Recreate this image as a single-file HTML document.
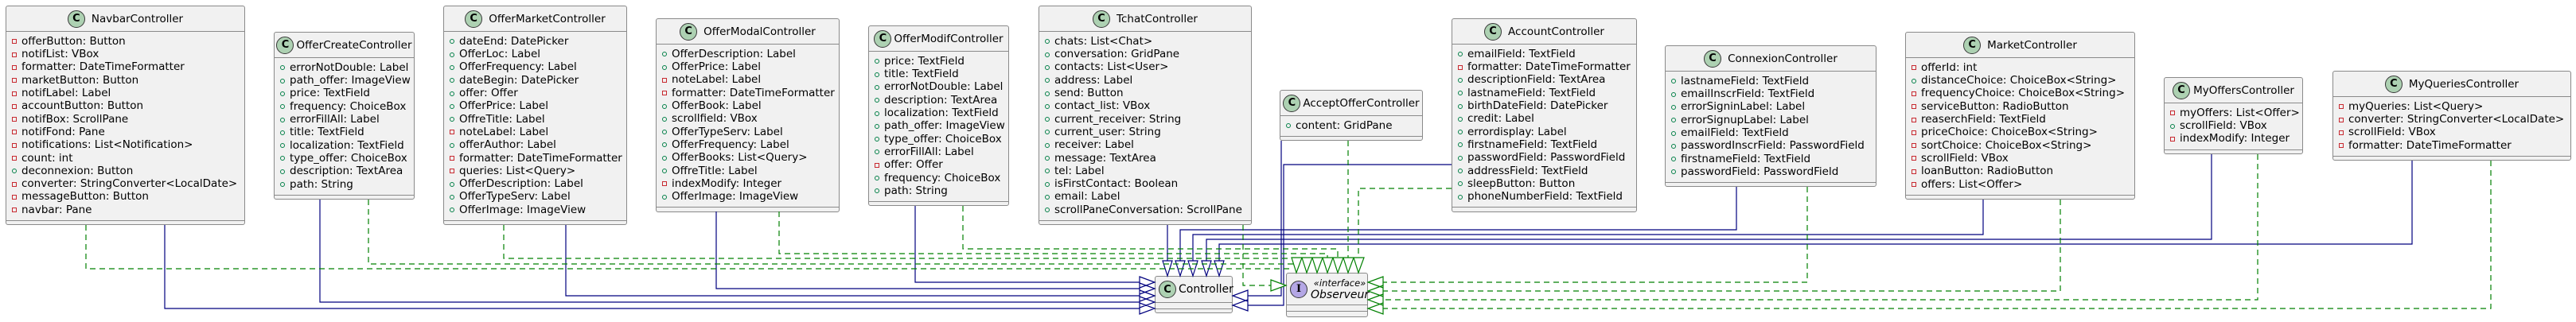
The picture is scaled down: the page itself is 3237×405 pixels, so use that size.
<!DOCTYPE html>
<html><head><meta charset="utf-8"><style>
html,body{margin:0;padding:0;background:#fff;width:3237px;height:405px;overflow:hidden;font-family:"DejaVu Sans","Liberation Sans",sans-serif;color:#000}
.b{position:absolute;background:#F1F1F1;border:1px solid #8a8a8a;border-radius:3px;box-sizing:border-box}
.h{height:31px;display:flex;align-items:center;justify-content:center;border-bottom:1px solid #8a8a8a;font-size:13.5px;white-space:nowrap}
.ic{width:20px;height:20px;border-radius:50%;background:#ADD1B2;border:1px solid #383838;font-weight:bold;font-size:13px;display:flex;align-items:center;justify-content:center;margin-right:8px;flex:none}
.rs{padding-top:3.85px;padding-bottom:4.85px;border-bottom:1px solid #8a8a8a}
.r{height:16.3px;line-height:16.3px;position:relative;padding-left:19px;white-space:nowrap;font-size:13.5px}
.r::before{content:"";position:absolute;left:7px;top:5.5px;width:4px;height:4px;box-sizing:content-box}
.v::before{border:1px solid #C82930}
.p::before{border:1px solid #038048;border-radius:50%}
svg{position:absolute;left:0;top:0}
</style></head><body>

<div class="b" style="left:7px;top:7px;width:301px;height:276px"><div class="h"><div class="ic">C</div>NavbarController</div><div class="rs">
<div class="r v">offerButton: Button</div><div class="r v">notifList: VBox</div><div class="r v">formatter: DateTimeFormatter</div><div class="r v">marketButton: Button</div><div class="r v">notifLabel: Label</div><div class="r v">accountButton: Button</div><div class="r v">notifBox: ScrollPane</div><div class="r v">notifFond: Pane</div><div class="r v">notifications: List&lt;Notification&gt;</div><div class="r v">count: int</div><div class="r p">deconnexion: Button</div><div class="r v">converter: StringConverter&lt;LocalDate&gt;</div><div class="r v">messageButton: Button</div><div class="r v">navbar: Pane</div></div></div>

<div class="b" style="left:344px;top:40px;width:177px;height:211px"><div class="h"><div class="ic" style="margin-right:3px">C</div>OfferCreateController</div><div class="rs">
<div class="r p">errorNotDouble: Label</div><div class="r p">path_offer: ImageView</div><div class="r p">price: TextField</div><div class="r p">frequency: ChoiceBox</div><div class="r p">errorFillAll: Label</div><div class="r p">title: TextField</div><div class="r p">localization: TextField</div><div class="r p">type_offer: ChoiceBox</div><div class="r p">description: TextArea</div><div class="r p">path: String</div></div></div>

<div class="b" style="left:557px;top:7px;width:231px;height:276px"><div class="h"><div class="ic">C</div>OfferMarketController</div><div class="rs">
<div class="r p">dateEnd: DatePicker</div><div class="r p">OfferLoc: Label</div><div class="r p">OfferFrequency: Label</div><div class="r p">dateBegin: DatePicker</div><div class="r p">offer: Offer</div><div class="r p">OfferPrice: Label</div><div class="r p">OffreTitle: Label</div><div class="r v">noteLabel: Label</div><div class="r p">offerAuthor: Label</div><div class="r v">formatter: DateTimeFormatter</div><div class="r v">queries: List&lt;Query&gt;</div><div class="r p">OfferDescription: Label</div><div class="r p">OfferTypeServ: Label</div><div class="r p">OfferImage: ImageView</div></div></div>

<div class="b" style="left:824px;top:23px;width:231px;height:244px"><div class="h"><div class="ic">C</div>OfferModalController</div><div class="rs">
<div class="r p">OfferDescription: Label</div><div class="r p">OfferPrice: Label</div><div class="r v">noteLabel: Label</div><div class="r v">formatter: DateTimeFormatter</div><div class="r p">OfferBook: Label</div><div class="r p">scrollfield: VBox</div><div class="r p">OfferTypeServ: Label</div><div class="r p">OfferFrequency: Label</div><div class="r p">OfferBooks: List&lt;Query&gt;</div><div class="r p">OffreTitle: Label</div><div class="r v">indexModify: Integer</div><div class="r p">OfferImage: ImageView</div></div></div>

<div class="b" style="left:1091px;top:32px;width:177px;height:227px"><div class="h"><div class="ic" style="margin-right:3px">C</div>OfferModifController</div><div class="rs">
<div class="r p">price: TextField</div><div class="r p">title: TextField</div><div class="r p">errorNotDouble: Label</div><div class="r p">description: TextArea</div><div class="r p">localization: TextField</div><div class="r p">path_offer: ImageView</div><div class="r p">type_offer: ChoiceBox</div><div class="r p">errorFillAll: Label</div><div class="r v">offer: Offer</div><div class="r p">frequency: ChoiceBox</div><div class="r p">path: String</div></div></div>

<div class="b" style="left:1305px;top:7px;width:268px;height:276px"><div class="h"><div class="ic">C</div>TchatController</div><div class="rs">
<div class="r p">chats: List&lt;Chat&gt;</div><div class="r p">conversation: GridPane</div><div class="r p">contacts: List&lt;User&gt;</div><div class="r p">address: Label</div><div class="r p">send: Button</div><div class="r p">contact_list: VBox</div><div class="r p">current_receiver: String</div><div class="r p">current_user: String</div><div class="r p">receiver: Label</div><div class="r p">message: TextArea</div><div class="r p">tel: Label</div><div class="r p">isFirstContact: Boolean</div><div class="r p">email: Label</div><div class="r p">scrollPaneConversation: ScrollPane</div></div></div>

<div class="b" style="left:1608px;top:113px;width:180px;height:64px"><div class="h"><div class="ic" style="margin-right:3px">C</div>AcceptOfferController</div><div class="rs">
<div class="r p">content: GridPane</div></div></div>

<div class="b" style="left:1824px;top:23px;width:233px;height:244px"><div class="h"><div class="ic">C</div>AccountController</div><div class="rs">
<div class="r p">emailField: TextField</div><div class="r v">formatter: DateTimeFormatter</div><div class="r p">descriptionField: TextArea</div><div class="r p">lastnameField: TextField</div><div class="r p">birthDateField: DatePicker</div><div class="r p">credit: Label</div><div class="r p">errordisplay: Label</div><div class="r p">firstnameField: TextField</div><div class="r p">passwordField: PasswordField</div><div class="r p">addressField: TextField</div><div class="r p">sleepButton: Button</div><div class="r p">phoneNumberField: TextField</div></div></div>

<div class="b" style="left:2092px;top:57px;width:266px;height:178px"><div class="h"><div class="ic">C</div>ConnexionController</div><div class="rs">
<div class="r p">lastnameField: TextField</div><div class="r p">emailInscrField: TextField</div><div class="r p">errorSigninLabel: Label</div><div class="r p">errorSignupLabel: Label</div><div class="r p">emailField: TextField</div><div class="r p">passwordInscrField: PasswordField</div><div class="r p">firstnameField: TextField</div><div class="r p">passwordField: PasswordField</div></div></div>

<div class="b" style="left:2394px;top:40px;width:289px;height:211px"><div class="h"><div class="ic">C</div>MarketController</div><div class="rs">
<div class="r v">offerId: int</div><div class="r p">distanceChoice: ChoiceBox&lt;String&gt;</div><div class="r v">frequencyChoice: ChoiceBox&lt;String&gt;</div><div class="r v">serviceButton: RadioButton</div><div class="r v">reaserchField: TextField</div><div class="r v">priceChoice: ChoiceBox&lt;String&gt;</div><div class="r v">sortChoice: ChoiceBox&lt;String&gt;</div><div class="r v">scrollField: VBox</div><div class="r v">loanButton: RadioButton</div><div class="r v">offers: List&lt;Offer&gt;</div></div></div>

<div class="b" style="left:2719px;top:97px;width:175px;height:97px"><div class="h"><div class="ic" style="margin-right:4px">C</div>MyOffersController</div><div class="rs">
<div class="r v">myOffers: List&lt;Offer&gt;</div><div class="r p">scrollField: VBox</div><div class="r v">indexModify: Integer</div></div></div>

<div class="b" style="left:2931px;top:89px;width:300px;height:113px"><div class="h"><div class="ic">C</div>MyQueriesController</div><div class="rs">
<div class="r v">myQueries: List&lt;Query&gt;</div><div class="r v">converter: StringConverter&lt;LocalDate&gt;</div><div class="r v">scrollField: VBox</div><div class="r v">formatter: DateTimeFormatter</div></div></div>

<div class="b" style="left:1451px;top:347px;width:98px;height:47px"><div class="h" style="height:32px;justify-content:flex-start;padding-left:4px;font-size:14px"><div class="ic" style="margin-right:3px">C</div>Controller</div><div style="height:7px;border-bottom:1px solid #8a8a8a"></div></div>

<div class="b" style="left:1616px;top:343px;width:103px;height:56px"><div style="height:39px;border-bottom:1px solid #8a8a8a;display:flex;align-items:center;padding-left:4px"><div class="ic" style="background:#B4A7E5;margin-right:4px;font-family:'DejaVu Serif',serif">I</div><div style="font-style:italic;text-align:center;line-height:15px"><div style="font-size:11.5px">«interface»</div><div style="font-size:14px">Observeur</div></div></div><div style="height:7px;border-bottom:1px solid #8a8a8a"></div></div>

<svg width="3237" height="405" viewBox="0 0 3237 405">
<g fill="none" stroke="#00007F" stroke-width="1.2">
<path d="M207 283V388H1432M402 251V380H1432M711 283V372H1432M900 266V363H1432M1150 259V355H1432"/>
<path d="M1467 283V328M2182 235V289H1483V328M2492 251V295H1499V328M2779 194V301H1516V328M3031 202V307H1532V328"/>
<path d="M1610 177V372H1568M1824 207H1613V384H1568"/>
</g>
<g fill="#fff" stroke="#00007F" stroke-width="1.2">
<path d="M1432 381L1451 388L1432 395ZM1432 373L1451 380L1432 387ZM1432 365L1451 372L1432 379ZM1432 356L1451 363L1432 370ZM1432 348L1451 355L1432 362Z"/>
<path d="M1461 328L1473 328L1467 347ZM1477 328L1489 328L1483 347ZM1493 328L1505 328L1499 347ZM1510 328L1522 328L1516 347ZM1526 328L1538 328L1532 347Z"/>
<path d="M1568 365L1549 372L1568 379ZM1568 377L1549 384L1568 391Z"/>
</g>
<g fill="none" stroke="#008000" stroke-width="1.2" stroke-dasharray="7,5">
<path d="M108 283V338H1622M463 251V332H1630M633 283V325H1655M979 266V319H1668V324M1210 259V313H1681V324"/>
<path d="M1694 177V324M1824 237H1707V324M1562 283V359H1597"/>
<path d="M2271 235V355H1738M2589 251V366H1738M2837 194V377H1738M3130 202V388H1738"/>
</g>
<g fill="#fff" stroke="#008000" stroke-width="1.2">
<path d="M1623 324L1636 324L1629 343ZM1636 324L1649 324L1642 343ZM1649 324L1662 324L1655 343ZM1662 324L1675 324L1668 343ZM1675 324L1688 324L1681 343ZM1688 324L1701 324L1694 343ZM1701 324L1714 324L1707 343Z"/>
<path d="M1597 352L1616 359L1597 366Z"/>
<path d="M1738 348L1719 355L1738 362ZM1738 359L1719 366L1738 373ZM1738 370L1719 377L1738 384ZM1738 381L1719 388L1738 395Z"/>
</g>
</svg>
</body></html>
